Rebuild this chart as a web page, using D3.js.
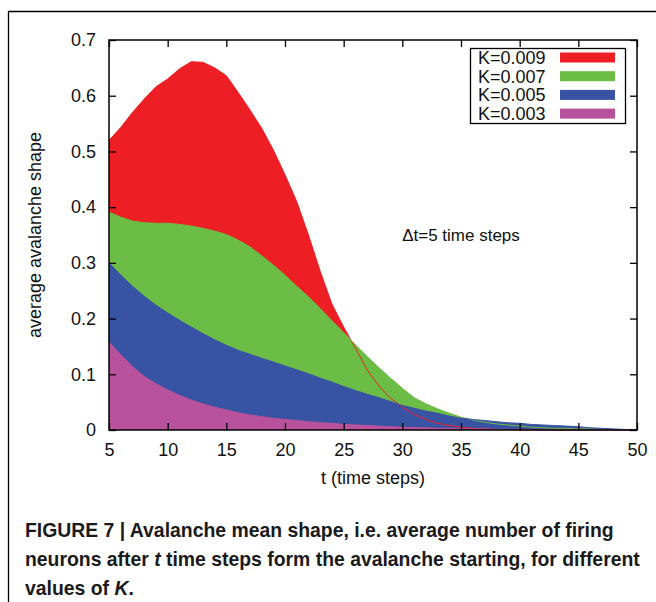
<!DOCTYPE html>
<html>
<head>
<meta charset="utf-8">
<script src="https://cdn.jsdelivr.net/npm/d3@7"></script>
<style>
  body { margin: 0; background: #fff; }
  svg { display: block; }
  text { font-family: "Liberation Sans", Arial, Helvetica, sans-serif; }
</style>
</head>
<body>
<div id="chart"></div>
<script>
// time steps on x axis
const tValues = [5, 6, 7, 8, 9, 10, 11, 12, 13, 14, 15, 16, 17, 18, 19, 20, 21, 22, 23, 24, 25, 26, 27,
  28, 29, 30, 31, 32, 33, 34, 35, 36, 37, 38, 39, 40, 41, 42, 43, 44, 45, 46, 47, 48, 49, 50];

const shapeK009 = [0.520, 0.543, 0.570, 0.594, 0.616, 0.630, 0.648, 0.661, 0.660, 0.650, 0.636, 0.606,
  0.575, 0.542, 0.503, 0.458, 0.410, 0.350, 0.285, 0.226, 0.185, 0.147, 0.108, 0.079, 0.057, 0.041,
  0.028, 0.019, 0.012, 0.008, 0.005, 0.003, 0.002, 0.001, 0.001, 0, 0, 0, 0, 0, 0, 0, 0, 0, 0, 0];
const shapeK007 = [0.391, 0.382, 0.375, 0.372, 0.371, 0.371, 0.369, 0.366, 0.362, 0.357, 0.351, 0.341,
  0.329, 0.313, 0.296, 0.278, 0.258, 0.239, 0.218, 0.196, 0.175, 0.153, 0.132, 0.112, 0.093, 0.075,
  0.058, 0.047, 0.038, 0.030, 0.023, 0.018, 0.014, 0.011, 0.009, 0.007, 0.005, 0.004, 0.003, 0.003,
  0.002, 0.002, 0.001, 0.001, 0.0005, 0];
const shapeK005 = [0.300, 0.278, 0.258, 0.240, 0.224, 0.210, 0.197, 0.185, 0.173, 0.162, 0.152, 0.143,
  0.136, 0.129, 0.122, 0.115, 0.108, 0.101, 0.093, 0.086, 0.078, 0.071, 0.064, 0.058, 0.051, 0.044,
  0.039, 0.034, 0.030, 0.025, 0.021, 0.019, 0.017, 0.015, 0.013, 0.012, 0.010, 0.009, 0.008, 0.007,
  0.006, 0.004, 0.003, 0.002, 0.001, 0.001];
const shapeK003 = [0.158, 0.135, 0.114, 0.096, 0.083, 0.072, 0.062, 0.054, 0.047, 0.041, 0.036, 0.031,
  0.027, 0.024, 0.021, 0.019, 0.017, 0.015, 0.013, 0.012, 0.010, 0.009, 0.008, 0.007, 0.006, 0.005,
  0.004, 0.004, 0.003, 0.003, 0.002, 0.002, 0.002, 0.001, 0.001, 0.001, 0.001, 0.001, 0, 0, 0, 0, 0, 0, 0, 0];

const seriesLabels = ["K=0.009", "K=0.007", "K=0.005", "K=0.003"];
const seriesColors = ["#ed1f24", "#6cbd45", "#3953a4", "#b8529c"];
const xTicks = [5, 10, 15, 20, 25, 30, 35, 40, 45, 50];
const yTicks = [0, 0.1, 0.2, 0.3, 0.4, 0.5, 0.6, 0.7];

const width = 656,
      height = 602;
const plot = { left: 109, top: 40, right: 637, bottom: 430 };

const series = [shapeK009, shapeK007, shapeK005, shapeK003].map((vals, i) => ({
  label: seriesLabels[i],
  color: seriesColors[i],
  values: vals.map((v, j) => ({ t: tValues[j], v: v }))
}));

const svg = d3.select("#chart")
  .append("svg")
  .attr("width", width)
  .attr("height", height);

// outer figure frame
svg.append("path")
  .attr("d", `M8.5,${height} V11.5 H${width}`)
  .attr("fill", "none")
  .attr("stroke", "#000")
  .attr("stroke-width", 1.3);

const xScale = d3.scaleLinear().domain([5, 50]).range([plot.left, plot.right]);
const yScale = d3.scaleLinear().domain([0, 0.7]).range([plot.bottom, plot.top]);

const area = d3.area()
  .x(d => xScale(d.t))
  .y0(yScale(0))
  .y1(d => yScale(d.v));
const line = d3.line()
  .x(d => xScale(d.t))
  .y(d => yScale(d.v));

// filled curves, largest first
series.forEach(s => {
  svg.append("path")
    .datum(s.values)
    .attr("fill", s.color)
    .attr("d", area);
});
// curve outlines stay visible where another fill covers them
series.forEach(s => {
  svg.append("path")
    .datum(s.values)
    .attr("fill", "none")
    .attr("stroke", s.color)
    .attr("stroke-width", 1)
    .attr("d", line);
});

// axes, ticks pointing inward, mirrored on top/right
const tickLen = 7;
const fontSize = "18px";
svg.append("g")
  .attr("transform", `translate(0,${plot.bottom})`)
  .call(d3.axisBottom(xScale).tickValues(xTicks).tickSize(-tickLen).tickPadding(13).tickFormat(d3.format("d")))
  .call(g => g.select(".domain").remove())
  .call(g => g.selectAll("text").attr("font-size", fontSize).attr("font-family", null).attr("fill", "#111"));
svg.append("g")
  .attr("transform", `translate(0,${plot.top})`)
  .call(d3.axisTop(xScale).tickValues(xTicks).tickSize(-tickLen).tickFormat(""))
  .call(g => g.select(".domain").remove());
svg.append("g")
  .attr("transform", `translate(${plot.left},0)`)
  .call(d3.axisLeft(yScale).tickValues(yTicks).tickSize(-tickLen).tickPadding(13)
    .tickFormat(d => d === 0 ? "0" : d3.format(".1f")(d)))
  .call(g => g.select(".domain").remove())
  .call(g => g.selectAll("text").attr("font-size", fontSize).attr("font-family", null).attr("fill", "#111"));
svg.append("g")
  .attr("transform", `translate(${plot.right},0)`)
  .call(d3.axisRight(yScale).tickValues(yTicks).tickSize(-tickLen).tickFormat(""))
  .call(g => g.select(".domain").remove());
svg.selectAll(".tick line").attr("stroke", "#000").attr("stroke-width", 1.3);

svg.append("rect")
  .attr("x", plot.left)
  .attr("y", plot.top)
  .attr("width", plot.right - plot.left)
  .attr("height", plot.bottom - plot.top)
  .attr("fill", "none")
  .attr("stroke", "#000")
  .attr("stroke-width", 1.5);

// axis titles
svg.append("text")
  .attr("x", (plot.left + plot.right) / 2)
  .attr("y", 484)
  .attr("text-anchor", "middle")
  .attr("font-size", fontSize)
  .attr("fill", "#111")
  .text("t (time steps)");
svg.append("text")
  .attr("transform", `translate(41,${(plot.top + plot.bottom) / 2}) rotate(-90)`)
  .attr("text-anchor", "middle")
  .attr("font-size", fontSize)
  .attr("fill", "#111")
  .text("average avalanche shape");

svg.append("text")
  .attr("x", 461)
  .attr("y", 241)
  .attr("text-anchor", "middle")
  .attr("font-size", "17px")
  .attr("fill", "#111")
  .text("\u0394t=5 time steps");

// legend
const legend = svg.append("g");
legend.append("rect")
  .attr("x", 470.5)
  .attr("y", 48.5)
  .attr("width", 155)
  .attr("height", 75)
  .attr("fill", "#fff")
  .attr("stroke", "#000")
  .attr("stroke-width", 1.3);
series.forEach((s, i) => {
  const cy = 57.5 + i * 18.7;
  legend.append("text")
    .attr("x", 478)
    .attr("y", cy)
    .attr("dy", "0.36em")
    .attr("font-size", fontSize)
    .attr("fill", "#111")
    .text(s.label);
  legend.append("rect")
    .attr("x", 560)
    .attr("y", cy - 5)
    .attr("width", 55)
    .attr("height", 10)
    .attr("fill", s.color);
});

// caption
const captionLines = [
  [{ t: "FIGURE 7 | Avalanche mean shape, i.e. average number of firing" }],
  [{ t: "neurons after " }, { t: "t", i: true }, { t: " time steps form the avalanche starting, for different" }],
  [{ t: "values of " }, { t: "K", i: true }, { t: "." }]
];
const captionY = [537, 566, 595];
const captions = captionLines.map((parts, li) => {
  const txt = svg.append("text")
    .attr("x", 25)
    .attr("y", captionY[li])
    .attr("font-size", "17px")
    .attr("font-weight", "bold")
    .attr("fill", "#1a1a1a")
    .style("font-family", '"Liberation Sans Narrow", "Arial Narrow", "Liberation Sans", sans-serif');
  parts.forEach(p => {
    txt.append("tspan")
      .attr("font-style", p.i ? "italic" : null)
      .text(p.t);
  });
  return txt;
});
// fit first caption line to the measured width of the original
const w0 = captions[0].node().getComputedTextLength();
const fs = 17 * 589 / w0;
captions.forEach(c => c.attr("font-size", fs + "px"));
</script>
</body>
</html>
